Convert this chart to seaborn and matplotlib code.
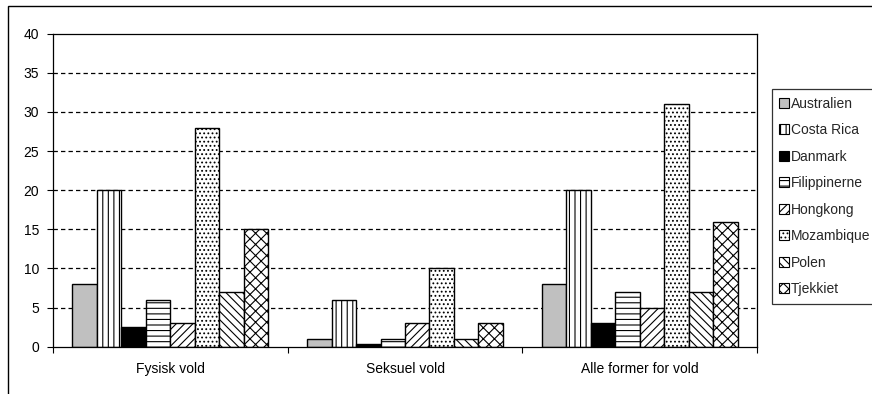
import matplotlib
matplotlib.use("Agg")
import matplotlib.pyplot as plt
from matplotlib.patches import Patch, Rectangle
import seaborn as sns
import pandas as pd

categories = ["Fysisk vold", "Seksuel vold", "Alle former for vold"]
countries = ["Australien", "Costa Rica", "Danmark", "Filippinerne",
             "Hongkong", "Mozambique", "Polen", "Tjekkiet"]
australien = [8, 1, 8]
costa_rica = [20, 6, 20]
danmark = [2.5, 0.4, 3]
filippinerne = [6, 1, 7]
hongkong = [3, 3, 5]
mozambique = [28, 10, 31]
polen = [7, 1, 7]
tjekkiet = [15, 3, 16]
series = [australien, costa_rica, danmark, filippinerne,
          hongkong, mozambique, polen, tjekkiet]

# fill colour and hatch for each country
styles = {
    "Australien": ("#c0c0c0", ""),
    "Costa Rica": ("white", "|||"),
    "Danmark": ("black", ""),
    "Filippinerne": ("white", "---"),
    "Hongkong": ("white", "////"),
    "Mozambique": ("white", "...."),
    "Polen": ("white", "\\\\\\\\"),
    "Tjekkiet": ("white", "xxx"),
}

rows = []
for country, vals in zip(countries, series):
    for cat, v in zip(categories, vals):
        rows.append({"Kategori": cat, "Land": country, "Procent": v})
df = pd.DataFrame(rows)

sns.set_theme(style="white")
plt.rcParams["font.family"] = ["Liberation Sans", "DejaVu Sans"]
plt.rcParams["hatch.linewidth"] = 0.8
plt.rcParams["hatch.color"] = "black"

fig = plt.figure(figsize=(8.72, 3.94), dpi=100)
ax = fig.add_axes([53 / 872, 47.3 / 394, 704 / 872, 313 / 394])

sns.barplot(data=df, x="Kategori", y="Procent", hue="Land",
            order=categories, hue_order=countries, width=0.835,
            errorbar=None, ax=ax, legend=False, saturation=1)

for container, country in zip(ax.containers, countries):
    fc, hatch = styles[country]
    for bar in container:
        bar.set_facecolor(fc)
        bar.set_edgecolor("black")
        bar.set_linewidth(1.0)
        bar.set_hatch(hatch)

ax.set_ylim(0, 40)
ax.set_xlim(-0.5, 2.5)
ax.set_yticks(range(0, 41, 5))
ax.set_xlabel("")
ax.set_ylabel("")
ax.set_xticks([0, 1, 2])
ax.set_xticklabels(categories, fontsize=10, color="black")
ax.set_xticks([-0.5, 0.5, 1.5, 2.5], minor=True)
ax.tick_params(axis="x", which="major", length=0, pad=11)
ax.tick_params(axis="x", which="minor", length=4, width=0.8,
               color="black", direction="out", bottom=True)
ax.tick_params(axis="y", length=4, width=0.8, color="black",
               direction="out", left=True, labelsize=10, labelcolor="black", pad=6)

for yv in range(5, 40, 5):
    ax.axhline(yv, color="black", linewidth=0.9, linestyle=(0, (3.5, 2.5)), zorder=0.5)

for side in ["left", "right", "top", "bottom"]:
    ax.spines[side].set_visible(True)
    ax.spines[side].set_color("black")
    ax.spines[side].set_linewidth(0.9)

# chart frame
fig.patches.append(Rectangle((8 / 872, -0.05), 1.2, (388 / 394) + 0.05,
                             transform=fig.transFigure, fill=False,
                             edgecolor="black", linewidth=1.0))

handles = []
for country in countries:
    fc, hatch = styles[country]
    handles.append(Patch(facecolor=fc, edgecolor="black", hatch=hatch,
                         linewidth=0.8, label=country))
leg = fig.legend(handles=handles, loc="upper left",
                 bbox_to_anchor=(771.5 / 872, 1 - 89 / 394),
                 fontsize=10, frameon=True, fancybox=False, shadow=False,
                 handlelength=0.7, handleheight=0.7, handletextpad=0.15,
                 labelspacing=0.9, borderpad=0.55, borderaxespad=0)
leg.get_frame().set_edgecolor("black")
leg.get_frame().set_linewidth(0.9)

fig.savefig("out.png", dpi=100, facecolor="white")
